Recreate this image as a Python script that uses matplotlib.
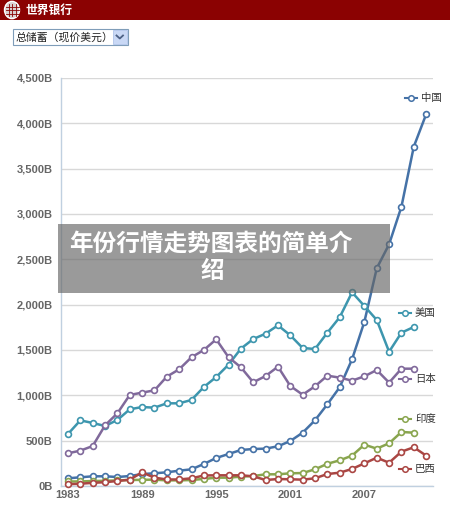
import matplotlib
matplotlib.use("Agg")
import matplotlib.pyplot as plt
from matplotlib.patches import Rectangle, Circle
from matplotlib.lines import Line2D
import numpy as np

years = list(range(1983, 2013))

china = [85, 96, 107, 107, 99, 110, 132, 140, 151, 169, 184, 243, 309, 353, 397, 408,
         412, 438, 496, 588, 725, 901, 1089, 1397, 1812, 2401, 2666, 3081, 3743, 4100]
usa = [574, 724, 695, 662, 728, 846, 871, 864, 912, 912, 949, 1092, 1202, 1338, 1515,
       1621, 1680, 1772, 1662, 1522, 1511, 1691, 1861, 2136, 1985, 1831, 1481, 1691, 1754]
japan = [361, 390, 441, 669, 802, 1004, 1030, 1055, 1206, 1287, 1420, 1500, 1618, 1420,
         1309, 1144, 1213, 1316, 1103, 1007, 1100, 1217, 1195, 1162, 1210, 1279, 1140,
         1294, 1294]
india = [50, 50, 55, 57, 62, 66, 68, 70, 62, 62, 66, 78, 92, 92, 103, 110, 129, 129,
         140, 143, 184, 245, 283, 335, 456, 412, 471, 596, 588]
brazil = [20, 25, 35, 42, 55, 70, 150, 92, 72, 72, 85, 116, 118, 118, 118, 107, 66, 77,
          74, 70, 85, 132, 147, 188, 250, 312, 257, 379, 427, 335]

series = [
    ("中国", china, "#4572A7"),
    ("美国", usa, "#3D96AE"),
    ("日本", japan, "#80699B"),
    ("印度", india, "#89A54E"),
    ("巴西", brazil, "#AA4643"),
]
label_pos = {"中国": 98, "美国": 313, "日本": 379, "印度": 419, "巴西": 469}

yticks = [0, 500, 1000, 1500, 2000, 2500, 3000, 3500, 4000, 4500]
ytick_labels = ["0B", "500B", "1,000B", "1,500B", "2,000B", "2,500B", "3,000B",
                "3,500B", "4,000B", "4,500B"]
xticks = [1983, 1989, 1995, 2001, 2007]

title = "年份行情走势图表的简单介"
title2 = "绍"
header = "世界银行"
dropdown = "总储蓄（现价美元）"

W, H = 450, 519
fig = plt.figure(figsize=(W / 100, H / 100), dpi=100)
fig.patch.set_facecolor("white")

CJK = ["Noto Sans CJK SC", "DejaVu Sans"]

def fx(x):
    return x / W

def fy(y):
    return 1 - y / H

# axes
L, R, T, B = 61, 433, 78, 486
ax = fig.add_axes([fx(L), fy(B), (R - L) / W, (B - T) / H])
ax.set_xlim(1983 - 7 / 12.35, 1983 + (R - 68) / 12.35)
ax.set_ylim(0, 4500)
for sp in ["top", "right"]:
    ax.spines[sp].set_visible(False)
for sp in ["left", "bottom"]:
    ax.spines[sp].set_color("#C0D0E0")
    ax.spines[sp].set_linewidth(1)
ax.set_yticks(yticks)
ax.set_yticklabels(ytick_labels, fontfamily="Liberation Sans", fontweight="bold",
                   fontsize=8, color="#666666")
ax.set_xticks(xticks)
ax.set_xticklabels([str(x) for x in xticks], fontfamily="Liberation Sans",
                   fontweight="bold", fontsize=8, color="#666666")
ax.tick_params(axis="y", length=0, pad=6)
ax.tick_params(axis="x", length=0, pad=3)
ax.grid(axis="y", color="#D8D8D8", linewidth=1)
ax.set_axisbelow(True)

for name, vals, col in series:
    ax.plot(years[:len(vals)], vals, color=col, linewidth=1.8, marker="o",
            markersize=4.2, markerfacecolor="white", markeredgecolor=col,
            markeredgewidth=1.2, clip_on=False, zorder=3)
    yy = label_pos[name]
    x0 = 405 if name == "中国" else 399
    fig.add_artist(Line2D([fx(x0), fx(x0 + 12)], [fy(yy), fy(yy)], color=col,
                          linewidth=1.5))
    fig.add_artist(Line2D([fx(x0 + 6)], [fy(yy)], color=col, marker="o",
                          markersize=4, markerfacecolor="white",
                          markeredgecolor=col, markeredgewidth=1.1))
    fig.text(fx(x0 + 16), fy(yy), name, fontfamily=CJK, fontsize=7.5,
             color="#333333", va="center", ha="left")

# header bar
fig.add_artist(Rectangle((0, fy(20)), 1, 20 / H, transform=fig.transFigure,
                         facecolor="#8B0202", edgecolor="none"))
fig.add_artist(Circle((fx(12), fy(10)), 7.5 / W, transform=fig.transFigure,
                      facecolor="#d9d0d0", edgecolor="white", linewidth=1))
for dx in (-3.5, 0, 3.5):
    fig.add_artist(Line2D([fx(12 + dx), fx(12 + dx)], [fy(4), fy(16)],
                          color="#8B0202", linewidth=0.6))
for dy in (-3.5, 0, 3.5):
    fig.add_artist(Line2D([fx(5.5), fx(18.5)], [fy(10 + dy), fy(10 + dy)],
                          color="#8B0202", linewidth=0.6))
fig.text(fx(26), fy(10.5), header, fontfamily=CJK, fontweight="bold", fontsize=8.5,
         color="white", va="center", ha="left")

# dropdown
fig.add_artist(Rectangle((fx(13), fy(45)), 115 / W, 16 / H, transform=fig.transFigure,
                         facecolor="white", edgecolor="#7F9DB9", linewidth=0.8))
fig.add_artist(Rectangle((fx(112.5), fy(44)), 14.5 / W, 14 / H, transform=fig.transFigure,
                         facecolor="#C9D8F5", edgecolor="#B0C4EA", linewidth=0.6))
fig.add_artist(Line2D([fx(116.5), fx(119.8), fx(123)], [fy(35.5), fy(38.5), fy(35.5)],
                      color="#4D6185", linewidth=1.3))
fig.text(fx(16), fy(37), dropdown, fontfamily=CJK, fontsize=7.8, color="#222222",
         va="center", ha="left")

# overlay
fig.add_artist(Rectangle((fx(58), fy(293)), (390 - 58) / W, (293 - 224) / H,
                         transform=fig.transFigure, facecolor="#666666", alpha=0.66,
                         edgecolor="none", zorder=5))
fig.text(fx(69), fy(244), title, fontfamily=CJK, fontweight="bold", fontsize=17,
         color="white", va="center", ha="left", zorder=6)
fig.text(fx(212), fy(271), title2, fontfamily=CJK, fontweight="bold", fontsize=17,
         color="white", va="center", ha="center", zorder=6)

fig.savefig("out.png", dpi=100)
